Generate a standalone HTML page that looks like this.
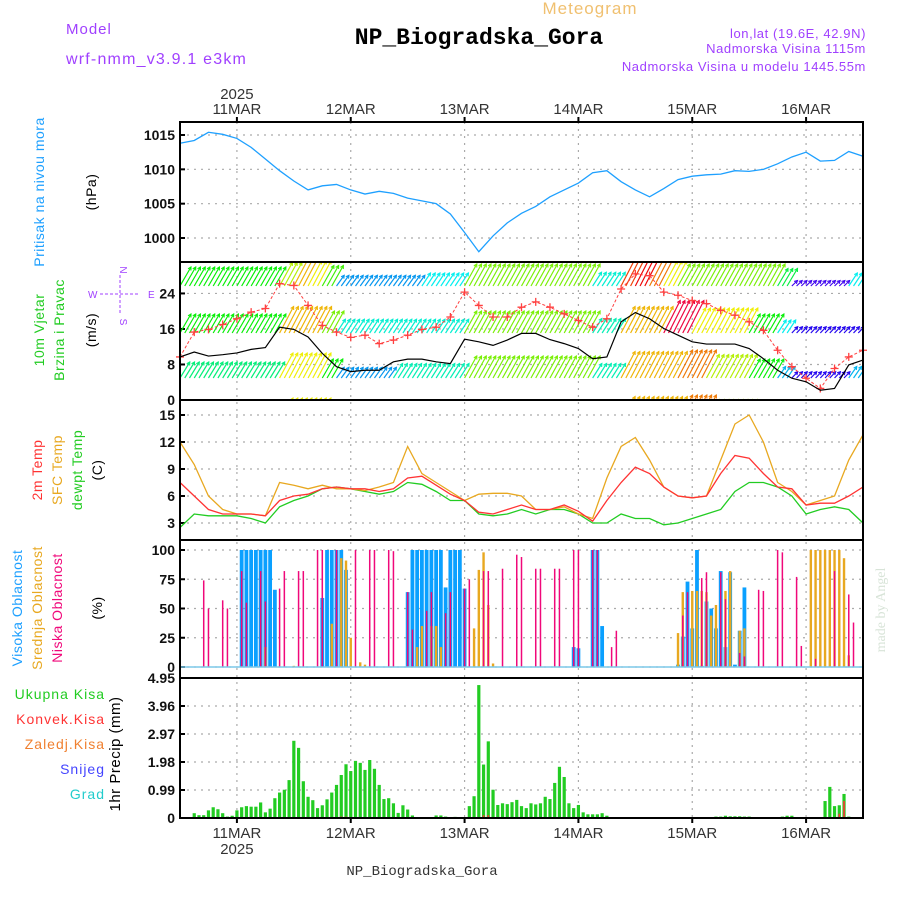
<!DOCTYPE html>
<html><head><meta charset="utf-8"><style>
html,body{margin:0;padding:0;background:#fff;}
svg{display:block;font-family:"Liberation Sans",sans-serif;}
</style></head><body>
<svg id="chart" width="900" height="900" viewBox="0 0 900 900" xmlns="http://www.w3.org/2000/svg">
<defs><clipPath id="windClip"><rect x="180" y="263" width="683" height="137"/></clipPath></defs>
<text x="66" y="34" font-size="15" fill="#a040ff" letter-spacing="1">Model</text>
<text x="66" y="64" font-size="16" fill="#a040ff" letter-spacing="1.2">wrf-nmm_v3.9.1 e3km</text>
<text x="590" y="14" font-size="17" fill="#f0c070" text-anchor="middle" letter-spacing="1">Meteogram</text>
<text x="479" y="44" font-size="23" font-weight="bold" font-family="Liberation Mono, monospace" fill="#000" text-anchor="middle">NP_Biogradska_Gora</text>
<text x="866" y="38" font-size="13" fill="#a040ff" text-anchor="end" letter-spacing="0.6">lon,lat (19.6E, 42.9N)</text>
<text x="866" y="53" font-size="13" fill="#a040ff" text-anchor="end" letter-spacing="0.6">Nadmorska Visina 1115m</text>
<text x="866" y="71" font-size="13" fill="#a040ff" text-anchor="end" letter-spacing="0.6">Nadmorska Visina u modelu 1445.55m</text>
<text x="422" y="875" font-size="14" font-family="Liberation Mono, monospace" fill="#333" text-anchor="middle">NP_Biogradska_Gora</text>
<text transform="translate(885,610) rotate(-90)" font-size="14" fill="#d8e4d8" text-anchor="middle" font-family="Liberation Serif, serif">made by Angel</text>

<g font-size="14" text-anchor="middle" letter-spacing="0.5">
<text transform="translate(44,192) rotate(-90)" fill="#1ea0ff">Pritisak na nivou mora</text>
<text transform="translate(96,192) rotate(-90)" fill="#000">(hPa)</text>
<text transform="translate(44,330) rotate(-90)" fill="#22cc22">10m Vjetar</text>
<text transform="translate(64,330) rotate(-90)" fill="#22cc22">Brzina i Pravac</text>
<text transform="translate(96,330) rotate(-90)" fill="#000">(m/s)</text>
<text transform="translate(42,470) rotate(-90)" fill="#ff3333">2m Temp</text>
<text transform="translate(62,470) rotate(-90)" fill="#e8a820">SFC Temp</text>
<text transform="translate(82,470) rotate(-90)" fill="#22cc22">dewpt Temp</text>
<text transform="translate(102,470) rotate(-90)" fill="#000">(C)</text>
<text transform="translate(22,608) rotate(-90)" fill="#1ea0ff">Visoka Oblacnost</text>
<text transform="translate(42,608) rotate(-90)" fill="#e8a820">Srednja Oblacnost</text>
<text transform="translate(62,608) rotate(-90)" fill="#f0087a">Niska Oblacnost</text>
<text transform="translate(102,608) rotate(-90)" fill="#000">(%)</text>
<text transform="translate(120,754) rotate(-90)" fill="#000" font-size="15">1hr Precip (mm)</text>
</g>
<g font-size="14" text-anchor="end" letter-spacing="1">
<text x="105" y="699" fill="#22cc22">Ukupna Kisa</text>
<text x="105" y="724" fill="#ff3333">Konvek.Kisa</text>
<text x="105" y="749" fill="#f08030">Zaledj.Kisa</text>
<text x="105" y="774" fill="#4444ff">Snijeg</text>
<text x="105" y="799" fill="#22cccc">Grad</text>
</g>
<g fill="#a040ff" font-size="10">
<text x="120" y="270" text-anchor="middle" transform="rotate(90 120 270)">N</text>
<text x="88" y="298">W</text><text x="148" y="298">E</text>
<text x="120" y="322" text-anchor="middle" transform="rotate(90 120 322)">S</text>
<line x1="100" y1="294" x2="140" y2="294" stroke="#a040ff" stroke-dasharray="3,2"/>
<line x1="120" y1="275" x2="120" y2="315" stroke="#a040ff" stroke-dasharray="3,2"/>
</g>
<g id="layer"></g>
</svg>
<script>
// ---- data ----
const dayLabels = ["11MAR","12MAR","13MAR","14MAR","15MAR","16MAR"];
const dayHours = [12,36,60,84,108,132];
const pressure = [1013.8,1014.2,1015.4,1015.1,1014.5,1013.2,1011.5,1009.8,1008.3,1007.0,1007.6,1007.8,1007.0,1006.4,1006.8,1006.5,1005.8,1005.4,1005.0,1003.5,1000.8,998.0,1000.3,1002.2,1003.6,1004.6,1006.0,1007.0,1008.0,1009.5,1009.8,1008.2,1007.0,1006.0,1007.2,1008.5,1009.0,1009.2,1009.3,1009.8,1009.7,1010.0,1010.8,1011.8,1012.5,1011.2,1011.3,1012.6,1011.9];
const pressureTicks = [1015,1010,1005,1000];
const windSpeed = [9.7,10.8,9.9,10.2,10.6,11.4,11.8,16.4,15.9,14.2,10.5,7.5,6.4,6.7,6.7,8.6,9.2,9.2,8.6,8.2,13.7,13.1,12.3,13.5,15.0,15.0,13.6,12.7,11.6,9.3,9.7,17.6,19.7,18.3,16.1,14.6,13.1,12.6,12.6,12.6,11.6,9.3,6.7,4.9,4.1,2.2,2.6,7.9,9.0];
const windGust = [9.7,15.3,15.9,17.0,18.3,19.8,20.6,26.2,25.8,21.3,16.8,15.3,14.1,14.6,12.7,13.5,14.6,15.9,16.4,18.7,24.3,21.3,18.7,18.7,20.9,22.1,20.9,19.4,17.9,16.4,18.3,25.0,28.4,28.0,24.3,23.6,22.4,21.7,20.2,19.1,17.6,15.7,11.2,7.5,4.9,2.6,7.1,9.7,11.2];
const windTicks = [24,16,8,0];
const upperWind1 = [20,20,20,20,20,20,20,26,30,28,22,9,9,9,9,9,9,12,12,12,24,24,24,24,24,24,24,24,24,13,13,34,36,32,28,24,24,24,24,24,24,24,18,2,2,2,2,12,12];
const upperWind2 = [20,20,20,20,20,20,20,30,30,30,24,13,13,13,13,13,13,13,13,13,24,24,24,24,24,24,24,24,24,14,14,30,30,30,38,38,28,28,28,28,20,20,12,3,3,3,3,3,12];
const upperWind3 = [16,16,16,16,16,16,16,28,28,28,20,9,9,9,9,14,14,14,14,14,24,24,24,24,24,24,24,24,24,14,14,30,30,30,30,32,32,26,26,26,20,20,10,3,3,3,3,10,10];
const tempSfc = [12,9.5,6,4.5,4,4,3.8,7.5,7.2,6.8,7.2,6.8,6.8,6.6,7,7.5,11.5,8.5,7.5,6.5,5.5,6.2,6.3,6.3,6,4.5,4.5,4.8,4,3.5,8,11.5,12.5,10,7,6,5.8,6,10,14,15,12,7.5,6.5,5,5.5,6,10,12.8];
const temp2m = [7.5,6,4.5,4,4,4,3.8,5.5,6,6.2,6.8,7,6.8,6.8,6.5,6.8,8,8.2,7.2,6.2,5.5,4.2,4,4.5,5,4.5,4.5,5,4.3,3.2,5.5,7.5,9.2,8.5,7,6,5.8,6,8.5,10.5,10.2,8.5,7,6.8,5,5.2,5.2,6,7];
const dewpoint = [2.5,4,3.8,3.8,3.8,3.5,3,4.8,5.5,6,6.8,7,6.8,6.5,6.2,6.5,7.5,7.3,6.5,5.5,5.5,4,3.8,4,4.5,4,4.5,4.5,4,3,3,4,3.5,3.5,2.8,3,3.5,4,4.5,6.5,7.5,7.5,7,6,4,4.5,4.8,4.5,3];
const tempTicks = [15,12,9,6,3];
const highCloudHours = [13,14,15,16,17,18,19,20,30,31,32,33,34,35,48,49,50,51,52,53,54,55,56,57,58,59,60,83,84,87,88,89,105,106,107,108,109,110,111,112,113,114,115,116,117,118,119];
const highCloudValues = [100,100,100,100,100,100,100,66,59,100,100,100,100,83,64,100,100,100,100,100,100,100,68,100,100,100,67,17,16,100,100,35,2,26,73,33,100,1,56,50,33,82,17,81,2,31,68];
const midCloudHours = [18,24,32,34,35,36,38,39,50,51,53,54,55,62,63,64,65,66,105,106,108,109,110,111,112,113,115,116,118,119,133,134,135,136,137,138,139,140,141];
const midCloudValues = [17,1,37,93,91,25,4,2,17,35,35,35,17,33,83,98,53,3,29,64,65,65,65,64,44,53,65,82,31,33,100,100,100,100,100,100,100,93,10];
const lowCloudHours = [5,6,9,10,13,14,17,18,21,22,25,26,29,30,33,37,40,41,44,45,48,49,52,53,56,57,60,61,64,65,68,71,72,75,76,79,80,83,84,87,88,91,92,106,107,110,111,114,115,118,119,122,123,126,127,130,131,134,138,141,142];
const lowCloudValues = [74,50,57,50,82,55,82,56,67,82,82,82,100,100,100,100,100,100,100,99,64,32,48,64,46,64,67,75,82,82,84,96,94,84,84,84,84,100,100,100,100,17,31,44,64,76,81,81,58,12,9,66,65,100,98,77,18,7,82,62,38];
const cloudTicks = [100,75,50,25,0];
const precipTotal = [0,0,0,.17,.1,.1,.27,.38,.31,.17,.05,.08,.27,.38,.42,.4,.4,.55,.2,.33,.7,.9,1.0,1.34,2.73,2.48,1.3,.75,.63,.35,.45,.66,.9,1.17,1.52,1.9,1.66,2.02,1.95,1.7,2.05,1.74,1.17,.67,.7,.52,.18,.45,.3,.09,0,0,0,0,.09,.09,.05,0,.04,0,0,.42,.77,4.7,1.89,2.71,1.0,.46,.52,.49,.56,.64,.42,.35,.52,.48,.52,.75,.67,1.24,1.81,1.45,.52,.35,.46,.2,.13,.13,.13,.17,.08,0,0,0,0,0,0,0,0,0,0,0,0,0,0,0,0,0,0,0,0,0,0,.05,.05,.08,.06,.06,.06,.05,.05,0,0,0,0,0,0,.05,.08,.08,0,0,0,0,0,0,.6,1.1,.42,.45,.85,.05,0,0];
const convHours = [34,35,40,64,65,139,140];
const convValues = [.05,.05,.03,.1,.1,.15,.6];
const precipTicks = [4.95,3.96,2.97,1.98,0.99,0];
const precipTickLabels = ["4.95","3.96","2.97","1.98","0.99","0"];

// ---- scales ----
const X0=180, X1=863, NH=144;
const xH = h => X0 + h*(X1-X0)/NH;
const xK = k => xH(k*3);
const yP = v => 135 + (1015-v)*(103/15);
const yW = v => 400 - v*4.44;
const yT = v => 523 - (v-3)*9;
const yC = v => 667 - v*1.17;
const yR = v => 818 - v*(140/4.95);
const NS="http://www.w3.org/2000/svg";
const layer=document.getElementById('layer');
function mk(tag,attrs,parent){const e=document.createElementNS(NS,tag);for(const k in attrs)e.setAttribute(k,attrs[k]);(parent||layer).appendChild(e);return e;}
function grid(y){
  const g=mk('line',{x1:X0,x2:X1,y1:y,y2:y,stroke:'#aaa','stroke-width':1.2,'stroke-dasharray':'2,5'});
  
  
}
function tickLabel(y,txt){
  const t=mk('text',{x:175,y:y+5,'font-size':14,'font-weight':'bold','text-anchor':'end',fill:'#111'});
  t.textContent=txt;
  
  
  mk('line',{x1:X0,x2:X0+5,y1:y,y2:y,stroke:'#000','stroke-width':2});
}
function line(vals,xf,yf,color,w,name){
  const p=mk('polyline',{points:vals.map((v,i)=>xf(i)+','+yf(v)).join(' '),fill:'none',stroke:color,'stroke-width':w});
  
  
  return p;
}
const panels=[[122,262],[262,400],[400,540],[540,678],[678,818]];
dayHours.forEach(h=>{
  const v=mk('line',{x1:xH(h),x2:xH(h),y1:122,y2:818,stroke:'#aaa','stroke-width':1.2,'stroke-dasharray':'2,5'});
  
  
});
dayLabels.forEach((d,i)=>{
  const a=mk('text',{x:xH(dayHours[i]),y:114,'font-size':15,'text-anchor':'middle',fill:'#333'});a.textContent=d;
  
  
  const b=mk('text',{x:xH(dayHours[i]),y:838,'font-size':15,'text-anchor':'middle',fill:'#333'});b.textContent=d;
  
  
});
{const t=mk('text',{x:xH(12),y:99,'font-size':15,'text-anchor':'middle',fill:'#333'});t.textContent='2025';


const u=mk('text',{x:xH(12),y:854,'font-size':15,'text-anchor':'middle',fill:'#333'});u.textContent='2025';

}

// pressure
pressureTicks.forEach(v=>{grid(yP(v));tickLabel(yP(v),String(v));});
line(pressure,xK,yP,'#1ea0ff',1.3,'pressure-line');

// wind
windTicks.forEach(v=>{grid(yW(v));tickLabel(yW(v),String(v));});
function hueColor(s){const v=Math.max(0,Math.min(1,s/40));let h=270-v*300;if(h<0)h+=360;return 'hsl('+h+',95%,48%)';}
const wg=mk('g',{'clip-path':'url(#windClip)'});


[[upperWind1,286],[upperWind2,333],[upperWind3,378],[upperWind3,423]].forEach(([arr,base])=>{
  for(let h=0;h<NH;h++){
    const s=arr[Math.floor(h/3)];const c=hueColor(s);
    const x=xH(h), dx=5+s*0.3, dy=4+s*0.75;
    const tx=x+dx, ty=base-dy;
    const a=mk('line',{x1:x,y1:base,x2:tx,y2:ty,stroke:c,'stroke-width':1.2},wg);
    
    
    const L=Math.hypot(dx,dy), ux=dx/L, uy=-dy/L, hl=3.5;
    const ca=Math.cos(0.5), sa=Math.sin(0.5);
    const b1x=tx-hl*(ux*ca-uy*sa), b1y=ty-hl*(ux*sa+uy*ca);
    const b2x=tx-hl*(ux*ca+uy*sa), b2y=ty-hl*(-ux*sa+uy*ca);
    mk('path',{d:`M${b1x},${b1y} L${tx},${ty} L${b2x},${b2y}`,fill:'none',stroke:c,'stroke-width':1.1},wg);
  }
});
line(windGust,xK,yW,'#ff4040',1,'gust-line').setAttribute('stroke-dasharray','3,2');
windGust.forEach((v,i)=>{
  const x=xK(i),y=yW(v);
  const c=mk('path',{d:`M${x-4},${y}H${x+4}M${x},${y-4}V${y+4}`,stroke:'#ff4040','stroke-width':1.3});
  
  
});
line(windSpeed,xK,yW,'#000',1.2,'wind-speed-line');

// temperature
tempTicks.forEach(v=>{grid(yT(v));tickLabel(yT(v),String(v));});
line(dewpoint,xK,yT,'#22cc22',1.3,'dewpoint-line');
line(tempSfc,xK,yT,'#e8a820',1.3,'sfc-temp-line');
line(temp2m,xK,yT,'#ff3333',1.3,'temp2m-line');

// clouds
cloudTicks.forEach(v=>{grid(yC(v));tickLabel(yC(v),String(v));});
function cbars(hours,vals,w,color,name){
  hours.forEach((h,i)=>{
    const y=yC(vals[i]);
    const r=mk('rect',{x:xH(h)-w/2,y:y,width:w,height:667-y,fill:color});
    
    
  });
}
cbars(highCloudHours,highCloudValues,3.8,'#0aa0ff','high-cloud-bar');
cbars(midCloudHours,midCloudValues,2.4,'#e8a820','mid-cloud-bar');
cbars(lowCloudHours,lowCloudValues,1.5,'#f0087a','low-cloud-bar');
mk('line',{x1:X0,x2:X1,y1:667,y2:667,stroke:'#7cc8e8','stroke-width':1.5});

// precip
precipTicks.forEach((v,i)=>{if(v>0&&v<4.95)grid(yR(v));tickLabel(yR(v),precipTickLabels[i]);});
mk('line',{x1:X0,x2:X1,y1:yR(4.95),y2:yR(4.95),stroke:'#000','stroke-width':1.5,'stroke-dasharray':'6,3'});
precipTotal.forEach((v,h)=>{
  if(v<=0)return;
  const y=yR(v);
  const r=mk('rect',{x:xH(h)-1.6,y:y,width:3.2,height:818-y,fill:'#22cc22'});
  
  
});
convHours.forEach((h,i)=>{
  const y=yR(convValues[i]);
  const r=mk('rect',{x:xH(h)-0.8,y:y,width:1.6,height:818-y,fill:'#ff3333'});
  
  
});
mk('line',{x1:X0,x2:X1,y1:818,y2:818,stroke:'#000','stroke-width':1.5,'stroke-dasharray':'6,3'});

panels.forEach(([a,b])=>{
  const r=mk('rect',{x:X0,y:a,width:X1-X0,height:b-a,fill:'none',stroke:'#000','stroke-width':2});
  
  
});
dayHours.forEach(h=>{mk('line',{x1:xH(h),x2:xH(h),y1:818,y2:823,stroke:'#000','stroke-width':2});mk('line',{x1:xH(h),x2:xH(h),y1:122,y2:117,stroke:'#000','stroke-width':2});});
</script>
</body></html>
